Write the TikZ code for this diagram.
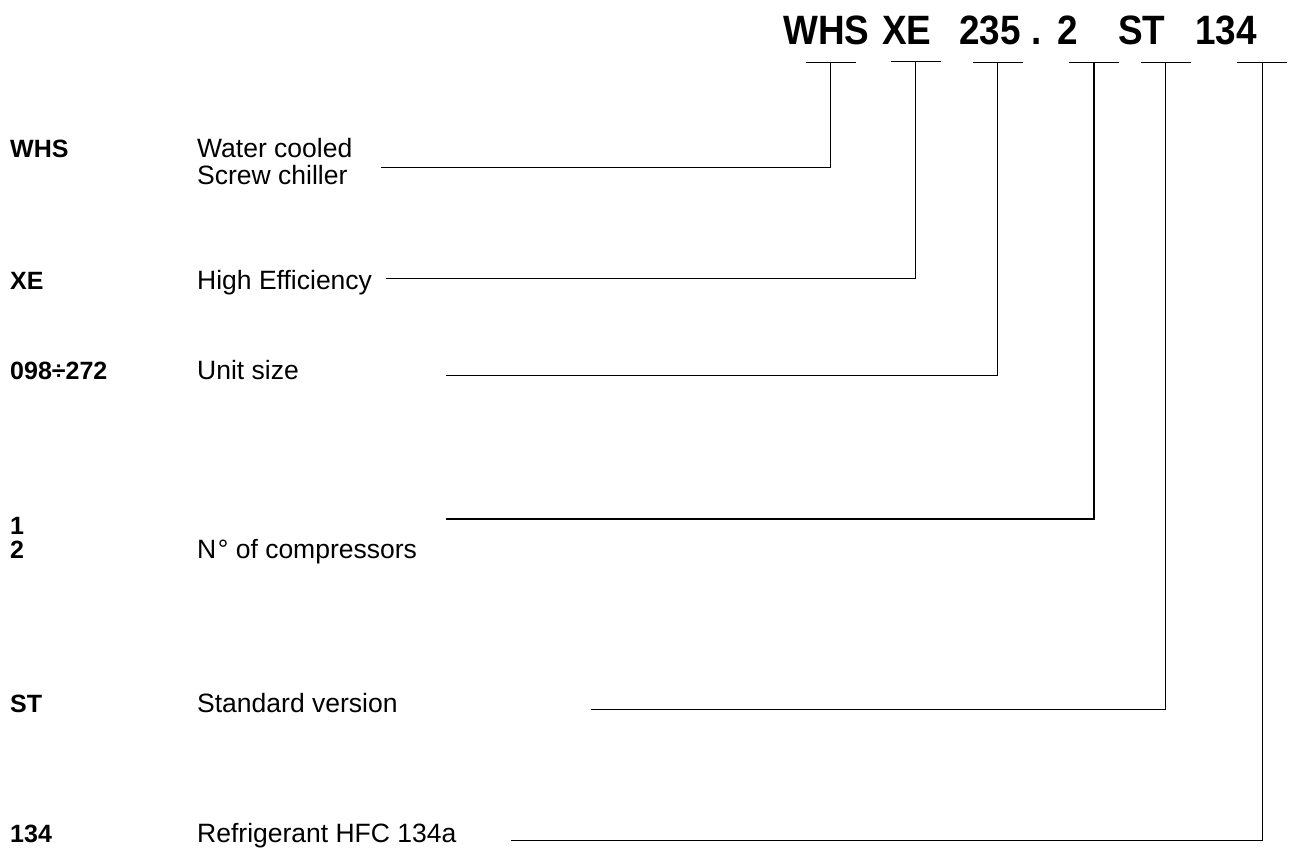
\documentclass[tikz,border=0pt]{standalone}
\usepackage{fontspec}
\setmainfont{Liberation Sans}
\newcommand{\hdrtext}[1]{\scalebox{0.9}[1]{#1}}
\begin{document}
\begin{tikzpicture}[x=1pt,y=-1pt,
  hdr/.style={anchor=base west,inner sep=0pt,font=\fontsize{41}{41}\selectfont\bfseries},
  lbl/.style={anchor=base west,inner sep=0pt,font=\fontsize{25}{27}\selectfont\bfseries},
  desc/.style={anchor=base west,inner sep=0pt,font=\fontsize{26.5}{27}\selectfont},
  conn/.style={line width=1.5pt,line cap=rect},
  bar/.style={line width=1.5pt}]
\useasboundingbox (0,0) rectangle (1298,855);
\fill[white] (0,0) rectangle (1298,855);
% header
\node[hdr] (hWHS) at (783,44) {\hdrtext{WHS}};
\node[hdr] (hXE) at (882,44) {\hdrtext{XE}};
\node[hdr] (h235) at (959,44) {\hdrtext{235}};
\node[hdr] (hdot) at (1031,44) {\hdrtext{.}};
\node[hdr] (h2) at (1057,44) {\hdrtext{2}};
\node[hdr] (hST) at (1118,44) {\hdrtext{ST}};
\node[hdr] (h134) at (1195,44) {\hdrtext{134}};
% bars
\coordinate (t1) at (830.7,62.5);
\coordinate (t2) at (915.7,61.5);
\coordinate (t3) at (997.7,62.5);
\coordinate (t4) at (1094,62.5);
\coordinate (t5) at (1165.7,62.5);
\coordinate (t6) at (1262.3,62.5);
\foreach \t in {t1,t2,t3,t4,t5,t6}
  \draw[bar] ([xshift=-25pt]\t) -- ([xshift=25pt]\t);
% labels
\node[lbl] (lWHS) at (10,157) {WHS};
\node[desc] (dWHS1) at (197,157) {Water cooled};
\node[desc] (dWHS2) at (197,184) {Screw chiller};
\node[lbl] (lXE) at (10,289) {XE};
\node[desc] (dXE) at (197,289) {High Efficiency};
\node[lbl] (lsize) at (10,379) {098÷272};
\node[desc] (dsize) at (197,379) {Unit size};
\node[lbl] (l1) at (10,534) {1};
\node[lbl] (l2) at (10,558) {2};
\node[desc] (dcomp) at (197,558) {N\kern1.5pt° of compressors};
\node[lbl] (lST) at (10,712) {ST};
\node[desc] (dST) at (197,712) {Standard version};
\node[lbl] (l134) at (10,842) {134};
\node[desc] (d134) at (197,842) {Refrigerant HFC 134a};
% connector starts
\coordinate (s1) at (382,167.7);
\coordinate (s2) at (387,278.3);
\coordinate (s3) at (447,375.3);
\coordinate (s4) at (447,519);
\coordinate (s5) at (592,709.7);
\coordinate (s6) at (512,840.7);
\draw[conn] (s1) -| (t1);
\draw[conn] (s2) -| (t2);
\draw[conn] (s3) -| (t3);
\draw[conn] (s4) -| (t4);
\draw[conn] (s5) -| (t5);
\draw[conn] (s6) -| (t6);
\end{tikzpicture}
\end{document}
